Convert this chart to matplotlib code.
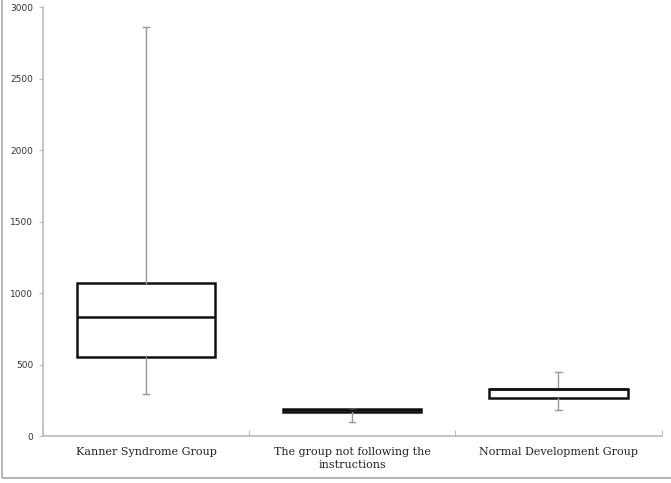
import matplotlib
matplotlib.use("Agg")
import matplotlib.pyplot as plt
from matplotlib.patches import Rectangle

# groups and read-off box statistics
groups = ["Kanner Syndrome Group", "The group not following the\ninstructions",
          "Normal Development Group"]
whislo = [294, 100, 182]
q1 = [553, 172, 266]
med = [833, 183, 330]
q3 = [1070, 192, 333]
whishi = [2860, 192, 448]

yticks = [0, 500, 1000, 1500, 2000, 2500, 3000]

plt.rcParams['font.family'] = ['DejaVu Serif']

fig = plt.figure(figsize=(6.71, 4.83), dpi=100)
ax = fig.add_axes([0.064, 0.097, 0.922, 0.888])

stats = []
for i in range(len(groups)):
    stats.append(dict(whislo=whislo[i], q1=q1[i], med=med[i], q3=q3[i],
                      whishi=whishi[i], fliers=[]))

pos = [0.5, 1.5, 2.5]
ax.bxp(stats, positions=pos, widths=0.67, showfliers=False,
       patch_artist=True,
       boxprops=dict(facecolor='white', edgecolor='#111111', linewidth=1.8),
       medianprops=dict(color='#111111', linewidth=1.8),
       whiskerprops=dict(color='#999999', linewidth=1.0),
       capprops=dict(color='#999999', linewidth=1.0),
       capwidths=0.03)

ax.set_xlim(0, 3)
ax.set_ylim(0, 3000)
ax.set_yticks(yticks)
ax.set_yticklabels([str(v) for v in yticks], fontsize=6.5, color='#333333',
                   family='DejaVu Sans')
ax.set_xticks([0, 1, 2, 3], minor=False)
ax.set_xticklabels([])
ax.set_xticks(pos, minor=True)
ax.set_xticklabels(groups, minor=True, fontsize=8, color='#222222',
                   linespacing=1.3)
ax.tick_params(axis='x', which='minor', length=0, pad=8)
ax.tick_params(axis='x', which='major', length=4, color='#bbbbbb',
               direction='in')
ax.tick_params(axis='y', length=3, color='#bbbbbb', pad=4)

for s in ['top', 'right']:
    ax.spines[s].set_visible(False)
for s in ['left', 'bottom']:
    ax.spines[s].set_color('#bbbbbb')
    ax.spines[s].set_linewidth(1.2)

# chart border
fig.patches.append(Rectangle((0.003, 0.01), 1.2, 1.2, transform=fig.transFigure,
                             fill=False, edgecolor='#aaaaaa', linewidth=1.2))

fig.savefig("out.png", dpi=100)
